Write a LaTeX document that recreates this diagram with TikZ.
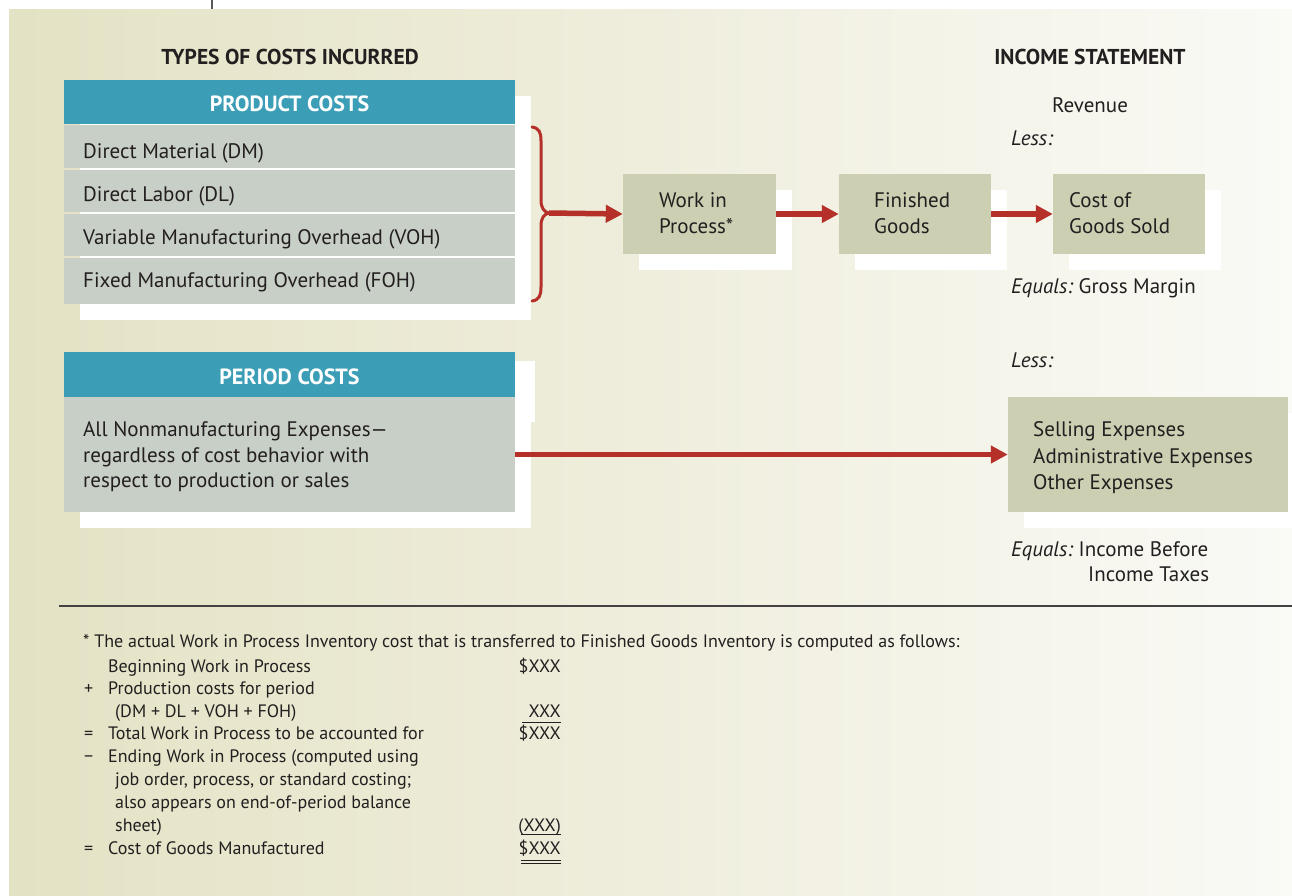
\documentclass[tikz,border=0pt]{standalone}
\usepackage{fontspec}
\setmainfont{PT Sans}
\usetikzlibrary{arrows.meta}
\definecolor{teal}{RGB}{59,158,182}
\definecolor{rowgray}{RGB}{200,207,198}
\definecolor{khaki}{RGB}{205,207,178}
\definecolor{arrred}{RGB}{180,48,40}
\definecolor{ink}{RGB}{35,31,32}
\definecolor{bgleft}{RGB}{228,226,196}
\definecolor{bgright}{RGB}{250,250,246}
\tikzset{
  txt/.style={anchor=base west,inner sep=0pt,text=ink,font=\fontsize{21}{24}\selectfont},
  ftxt/.style={anchor=base west,inner sep=0pt,text=ink,font=\fontsize{18}{21}\selectfont},
  famt/.style={anchor=base east,inner sep=0pt,text=ink,font=\fontsize{18}{21}\selectfont},
  head/.style={anchor=base,inner sep=0pt,text=ink,font=\bfseries\fontsize{21.5}{24}\selectfont},
  whead/.style={anchor=base,inner sep=0pt,text=white,font=\bfseries\fontsize{22}{24}\selectfont},
  flow/.style={draw=none,fill=khaki,inner sep=0pt},
  shadowbox/.style={fill=white,draw=none},
  redarrow/.style={draw=arrred,line width=5.5pt,-{Triangle[length=17pt,width=17pt]}},
  brace/.style={draw=arrred,line width=3pt,line cap=round}
}
\begin{document}
\begin{tikzpicture}[x=1pt,y=-1pt]
\useasboundingbox (0,0) rectangle (1292,895);
\fill[white] (0,0) rectangle (1292,895);
\shade[left color=bgleft,right color=bgright] (9,9) rectangle (1292,895);
\draw[gray!70!black,line width=1.5pt] (212,0) -- (212,9);

% headings
\node[head] (h1) at (290,64) {TYPES OF COSTS INCURRED};
\node[head] (h2) at (1090,64) {INCOME STATEMENT};

% product costs
\fill[shadowbox] (80,96) rectangle (531,320);
\node[fill=teal,inner sep=0pt,minimum width=451pt,minimum height=44pt] (pc) at (289.5,102) {};
\node[whead] (pct) at (289.5,111.5) {PRODUCT COSTS};
\node[fill=rowgray,inner sep=0pt,minimum width=451pt,minimum height=43pt] (r1) at (289.5,146.5) {};
\node[fill=rowgray,inner sep=0pt,minimum width=451pt,minimum height=42pt] (r2) at (289.5,191) {};
\node[fill=rowgray,inner sep=0pt,minimum width=451pt,minimum height=42pt] (r3) at (289.5,235) {};
\node[fill=rowgray,inner sep=0pt,minimum width=451pt,minimum height=46pt] (r4) at (289.5,281) {};
\node[txt] (t1) at (83,158) {Direct Material (DM)};
\node[txt] (t2) at (83,201) {Direct Labor (DL)};
\node[txt] (t3) at (83,244) {Variable Manufacturing Overhead (VOH)};
\node[txt] (t4) at (83,287) {Fixed Manufacturing Overhead (FOH)};

% brace
\coordinate (tip) at (549,213);
\draw[brace] (532,127) .. controls (539,128) and (541,132) .. (541,141) -- (541,200) .. controls (541,208) and (544,212) .. (tip) .. controls (544,214) and (541,218) .. (541,226) -- (541,287) .. controls (541,296) and (539,300) .. (532,301);

% flow boxes
\fill[shadowbox] (639,190) rectangle (792,270);
\fill[shadowbox] (855,190) rectangle (1007,270);
\fill[shadowbox] (1069,190) rectangle (1221,270);
\node[flow,minimum width=153pt,minimum height=80pt] (wip) at (699.5,214) {};
\node[flow,minimum width=152pt,minimum height=80pt] (fg) at (915,214) {};
\node[flow,minimum width=152pt,minimum height=80pt] (cogs) at (1129,214) {};
\node[txt] (wip1) at (659,207) {Work in};
\node[txt] (wip2) at (659,233) {Process*};
\node[txt] (fg1) at (874,207) {Finished};
\node[txt] (fg2) at (874,233) {Goods};
\node[txt] (cg1) at (1069,207) {Cost of};
\node[txt] (cg2) at (1069,233) {Goods Sold};

\draw[redarrow] (tip) -- (wip.west);
\draw[redarrow] (wip.east) -- (fg.west);
\draw[redarrow] (fg.east) -- (cogs.west);

% income statement texts
\node[txt] (rev) at (1052,112) {Revenue};
\node[txt] (less1) at (1011,145) {\itshape Less:};
\node[txt] (eq1) at (1011,293) {\itshape Equals:\upshape\ Gross Margin};
\node[txt] (less2) at (1011,367) {\itshape Less:};

% period costs
\fill[shadowbox] (80,368) rectangle (531,528);
\fill[shadowbox] (515,361) rectangle (535,422);
\node[fill=teal,inner sep=0pt,minimum width=451pt,minimum height=45pt] (pp) at (289.5,374.5) {};
\node[whead] (ppt) at (289.5,384.5) {PERIOD COSTS};
\node[fill=rowgray,inner sep=0pt,minimum width=451pt,minimum height=115pt] (pb) at (289.5,454.5) {};
\node[txt] (p1) at (83,436) {All Nonmanufacturing Expenses—};
\node[txt] (p2) at (83,462) {regardless of cost behavior with};
\node[txt] (p3) at (83,487) {respect to production or sales};

% expenses
\fill[shadowbox] (1024,413) rectangle (1292,528);
\node[flow,minimum width=280pt,minimum height=115pt] (exp) at (1148,454.5) {};
\node[txt] (e1) at (1033,436) {Selling Expenses};
\node[txt] (e2) at (1033,463) {Administrative Expenses};
\node[txt] (e3) at (1033,489) {Other Expenses};
\draw[redarrow] (pb.east) -- (exp.west);

\node[txt] (eq2) at (1011,556) {\itshape Equals:\upshape\ Income Before};
\node[txt] (eq3) at (1088,581) {Income Taxes};

% rule
\draw[ink!85,line width=1.5pt] (59,606) -- (1292,606);

% footnote
\node[ftxt] (f0) at (83,647) {* The actual Work in Process Inventory cost that is transferred to Finished Goods Inventory is computed as follows:};
\node[ftxt] (f1) at (108,672) {Beginning Work in Process};
\node[famt] (a1) at (561,672) {\$XXX};
\node[ftxt] (s2) at (84,694) {+};
\node[ftxt] (f2) at (108,694) {Production costs for period};
\node[ftxt] (f3) at (115,717) {(DM + DL + VOH + FOH)};
\node[famt] (a3) at (561,717) {XXX};
\draw[ink,line width=1pt] (522,722) -- (561,722);
\node[ftxt] (s4) at (84,739) {=};
\node[ftxt] (f4) at (108,739) {Total Work in Process to be accounted for};
\node[famt] (a4) at (561,739) {\$XXX};
\node[ftxt] (s5) at (84,762) {−};
\node[ftxt] (f5) at (108,762) {Ending Work in Process (computed using};
\node[ftxt] (f6) at (115,785) {job order, process, or standard costing;};
\node[ftxt] (f7) at (115,808) {also appears on end-of-period balance};
\node[ftxt] (f8) at (115,831) {sheet)};
\node[famt] (a8) at (561,831) {(XXX)};
\draw[ink,line width=1pt] (521,834) -- (561,834);
\node[ftxt] (s9) at (84,854) {=};
\node[ftxt] (f9) at (108,854) {Cost of Goods Manufactured};
\node[famt] (a9) at (561,854) {\$XXX};
\draw[ink,line width=1pt] (521,860) -- (561,860);
\draw[ink,line width=1pt] (521,863.5) -- (561,863.5);
\end{tikzpicture}
\end{document}
